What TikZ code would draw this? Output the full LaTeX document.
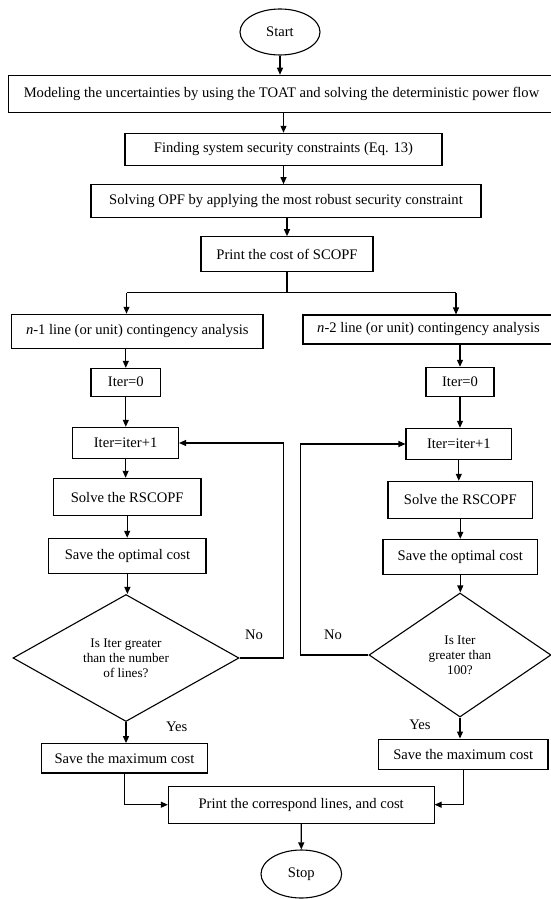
\documentclass[tikz,border=0pt]{standalone}
\usepackage{fontspec}
\setmainfont{Liberation Serif}
\usetikzlibrary{arrows.meta,shapes.geometric}
\begin{document}
\begin{tikzpicture}[x=1pt,y=-1pt,
  every node/.style={font=\fontsize{14.6}{16}\selectfont, inner sep=0pt},
  pbox/.style={draw, line width=1.1pt, rectangle},
  term/.style={draw, line width=1.1pt, ellipse},
  decide/.style={draw, line width=1.1pt, diamond, aspect=1.6, align=center, font=\fontsize{13.2}{15}\selectfont},
  arr/.style={line width=1.1pt, -{Triangle[length=7pt,width=6pt]}},
  ln/.style={line width=1.1pt}]
\useasboundingbox (0,0) rectangle (551,899);
% nodes
\node[term, minimum width=80pt, minimum height=46pt] (start) at (280,32) {Start};
\node[pbox, minimum width=546pt, minimum height=37pt] (b1) at (281.5,93.8) {Modeling the uncertainties by using the TOAT and solving the deterministic power flow};
\node[pbox, minimum width=317pt, minimum height=32pt] (b2) at (283.5,149.3) {Finding system security constraints (Eq. 13)};
\node[pbox, minimum width=390pt, minimum height=32.6pt] (b3) at (286,201) {Solving OPF by applying the most robust security constraint};
\node[pbox, minimum width=172pt, minimum height=35pt] (b4) at (287,254.2) {Print the cost of SCOPF};
\node[pbox, minimum width=251.4pt, minimum height=34pt] (n1) at (137.3,331.3) {\textit{n}-1 line (or unit) contingency analysis};
\node[pbox, minimum width=251pt, minimum height=29pt] (n2) at (428.5,329.5) {\textit{n}-2 line (or unit) contingency analysis};
\node[pbox, minimum width=69.6pt, minimum height=27.7pt] (i0L) at (125.8,382.2) {Iter=0};
\node[pbox, minimum width=68pt, minimum height=28.7pt] (i0R) at (460,381.7) {Iter=0};
\node[pbox, minimum width=105.8pt, minimum height=31.4pt] (i1L) at (125.6,443) {Iter=iter+1};
\node[pbox, minimum width=105.6pt, minimum height=31.4pt] (i1R) at (458.8,444) {Iter=iter+1};
\node[pbox, minimum width=147.6pt, minimum height=37.4pt] (sL) at (127.2,497) {Solve the RSCOPF};
\node[pbox, minimum width=144.7pt, minimum height=37pt] (sR) at (460.3,499.8) {Solve the RSCOPF};
\node[pbox, minimum width=157.2pt, minimum height=35pt] (oL) at (127.4,555.8) {Save the optimal cost};
\node[pbox, minimum width=154.6pt, minimum height=35pt] (oR) at (460.3,556.8) {Save the optimal cost};
\node[decide, minimum width=226pt, minimum height=127pt] (dL) at (126,658) {Is Iter greater\\than the number\\of lines?};
\node[decide, minimum width=182pt, minimum height=124pt] (dR) at (460,655) {Is Iter\\greater than\\100?};
\node[pbox, minimum width=165.5pt, minimum height=29.3pt] (mL) at (124.5,758.3) {Save the maximum cost};
\node[pbox, minimum width=169.6pt, minimum height=30.3pt] (mR) at (463.2,754.2) {Save the maximum cost};
\node[pbox, minimum width=265.7pt, minimum height=37.3pt] (pr) at (301.2,804.7) {Print the correspond lines, and cost};
\node[term, minimum width=80.6pt, minimum height=48pt] (stop) at (301.3,874) {Stop};
% labels
\node (noL) at (254,635) {No};
\node (noR) at (333,634.3) {No};
\node (yesL) at (176.7,726.7) {Yes};
\node (yesR) at (420,724.3) {Yes};
% coordinates
\coordinate (spL) at (126.5,292.7);
\coordinate (spR) at (456,292.7);
\coordinate (lpL) at (283.5,0);
\coordinate (lpR) at (300.4,0);
% connectors
\draw[arr] (start.south) -- (start.south |- b1.north);
\draw[arr] (b1.south -| b2.north) -- (b2.north);
\draw[arr] (b2.south) -- (b2.south |- b3.north);
\draw[arr] (b3.south -| b4.north) -- (b4.north);
\draw[ln] (b4.south) -- (b4.south |- spL);
\draw[ln] (spL) -- (spR);
\draw[arr] (spL) -- (spL |- n1.north);
\draw[arr] (spR) -- (spR |- n2.north);
\draw[arr] (i0L.north |- n1.south) -- (i0L.north);
\draw[arr] (i0R.north |- n2.south) -- (i0R.north);
\draw[arr] (i0L.south) -- (i0L.south |- i1L.north);
\draw[arr] (i0R.south) -- (i0R.south |- i1R.north);
\draw[arr] (i1L.south) -- (i1L.south |- sL.north);
\draw[arr] (i1R.south) -- (i1R.south |- sR.north);
\draw[arr] (sL.south) -- (sL.south |- oL.north);
\draw[arr] (sR.south) -- (sR.south |- oR.north);
\draw[arr] (oL.south) -- (oL.south |- dL.north);
\draw[arr] (oR.south) -- (oR.south |- dR.north);
\draw[arr] (dL.south) -- (dL.south |- mL.north);
\draw[arr] (dR.south) -- (dR.south |- mR.north);
\draw[arr] (dL.east) -- (dL.east -| lpL) -- (lpL |- i1L.east) -- (i1L.east);
\draw[arr] (dR.west) -- (dR.west -| lpR) -- (lpR |- i1R.west) -- (i1R.west);
\draw[arr] (mL.south) |- (pr.west);
\draw[arr] (mR.south) |- (pr.east);
\draw[arr] (pr.south) -- (stop.north);
\end{tikzpicture}
\end{document}
